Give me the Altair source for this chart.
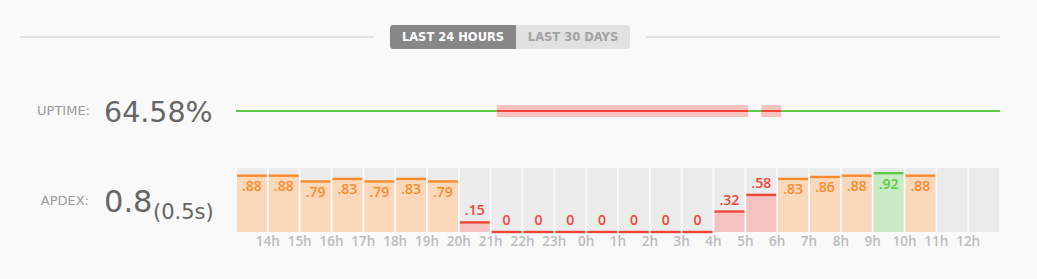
import altair as alt
import pandas as pd

# ---- data ----
hours = ["13h", "14h", "15h", "16h", "17h", "18h", "19h", "20h", "21h", "22h", "23h", "0h",
         "1h", "2h", "3h", "4h", "5h", "6h", "7h", "8h", "9h", "10h", "11h", "12h"]
apdex = [0.88, 0.88, 0.79, 0.83, 0.79, 0.83, 0.79, 0.15, 0, 0, 0, 0,
         0, 0, 0, 0.32, 0.58, 0.83, 0.86, 0.88, 0.92, 0.88, None, None]
status = ["fair", "fair", "fair", "fair", "fair", "fair", "fair", "bad", "bad", "bad", "bad", "bad",
          "bad", "bad", "bad", "bad", "bad", "fair", "fair", "fair", "good", "fair", None, None]
tick_labels = hours[1:]            # labels drawn at the boundaries between buckets
outage_start = [8.19, 16.50]       # hours from window start
outage_end = [16.09, 17.13]
uptime_text = "64.58%"
apdex_text = "0.8"
apdex_t = "(0.5s)"

line_col = {"fair": "#f98a2b", "bad": "#ee4537", "good": "#5cc948"}
fill_col = {"fair": "#fbd8b9", "bad": "#f6c3c0", "good": "#c8ebc3"}

FONT = "Open Sans"
WIDE = "DejaVu Sans"
BG = "#f9f9f9"

bars = pd.DataFrame({
    "i": list(range(24)),
    "i2": [k + 1 for k in range(24)],
    "hour": hours,
    "v": apdex,
    "status": status,
})
ticks = pd.DataFrame({"pos": list(range(1, 24)), "label": tick_labels})
outages = pd.DataFrame({"s": outage_start, "e": outage_end})
full = pd.DataFrame({"s": [0], "e": [24]})
one = pd.DataFrame({"a": [0]})

xs = alt.Scale(domain=[0, 24], range=[236, 1000], nice=False, zero=False)
ys = alt.Scale(domain=[0, 1], range=[232, 168], nice=False, zero=True)
stat_domain = ["fair", "bad", "good"]
line_scale = alt.Scale(domain=stat_domain, range=[line_col[k] for k in stat_domain])
fill_scale = alt.Scale(domain=stat_domain, range=[fill_col[k] for k in stat_domain])

X = alt.X("i:Q", scale=xs, axis=None)
X2 = alt.X2("i2:Q")

# background grey cells
bg_cells = alt.Chart(bars).mark_bar(color="#ebebeb", xOffset=1, x2Offset=-1).encode(
    x=X, x2=X2, y=alt.value(168), y2=alt.value(232))

fill_bars = alt.Chart(bars).transform_filter("isValid(datum.v)").mark_bar(
    xOffset=1, x2Offset=-1).encode(
    x=X, x2=X2,
    y=alt.Y("v:Q", scale=ys, axis=None), y2=alt.datum(0),
    color=alt.Color("status:N", scale=fill_scale, legend=None))

top_lines = alt.Chart(bars).transform_filter("isValid(datum.v)").mark_rule(
    xOffset=1, x2Offset=-1, strokeWidth=2.4).encode(
    x=X, x2=X2,
    y=alt.Y("v:Q", scale=ys, axis=None),
    color=alt.Color("status:N", scale=line_scale, legend=None))

lab_expr = "datum.v == 0 ? '0' : replace(format(datum.v, '.2f'), '0.', '.')"
inside_labels = alt.Chart(bars).transform_filter(
    "isValid(datum.v) && datum.status != 'bad'").transform_calculate(
    lab=lab_expr, mid="datum.i + 0.5").mark_text(
    font=FONT, fontSize=14, fontWeight=600, dy=11.5, baseline="middle").encode(
    x=alt.X("mid:Q", scale=xs, axis=None),
    y=alt.Y("v:Q", scale=ys, axis=None),
    text="lab:N",
    color=alt.Color("status:N", scale=line_scale, legend=None))

above_labels = alt.Chart(bars).transform_filter(
    "isValid(datum.v) && datum.status == 'bad'").transform_calculate(
    lab=lab_expr, mid="datum.i + 0.5").mark_text(
    font=FONT, fontSize=14, fontWeight=600, dy=-11, baseline="middle").encode(
    x=alt.X("mid:Q", scale=xs, axis=None),
    y=alt.Y("v:Q", scale=ys, axis=None),
    text="lab:N",
    color=alt.Color("status:N", scale=line_scale, legend=None))

hour_labels = alt.Chart(ticks).mark_text(font=FONT, fontSize=13.5, fontWeight=600,
                                         color="#bcbcbc", baseline="middle").encode(
    x=alt.X("pos:Q", scale=xs, axis=None), y=alt.value(242), text="label:N")

# uptime strip
up_line = alt.Chart(full).mark_rule(color="#5cc948", strokeWidth=2).encode(
    x=alt.X("s:Q", scale=xs, axis=None), x2="e:Q", y=alt.value(111))
out_box = alt.Chart(outages).mark_rect(color="#f6c3c0").encode(
    x=alt.X("s:Q", scale=xs, axis=None), x2="e:Q", y=alt.value(105), y2=alt.value(117))
out_line = alt.Chart(outages).mark_rule(color="#ee4537", strokeWidth=2).encode(
    x=alt.X("s:Q", scale=xs, axis=None), x2="e:Q", y=alt.value(111))

# header
hdr_lines = alt.Chart(pd.DataFrame({"a": [20, 646], "b": [374, 1000]})).mark_rule(
    color="#e2e2e2", strokeWidth=2).encode(
    x=alt.X("a:Q", scale=None), x2="b:Q", y=alt.value(37))
btn_light = alt.Chart(one).mark_rect(color="#e1e1e1", cornerRadius=3).encode(
    x=alt.value(390), x2=alt.value(630), y=alt.value(25), y2=alt.value(49))
btn_dark = alt.Chart(one).mark_rect(color="#878787", cornerRadiusTopLeft=3,
                                    cornerRadiusBottomLeft=3).encode(
    x=alt.value(390), x2=alt.value(516), y=alt.value(25), y2=alt.value(49))
btn_t1 = alt.Chart(one).mark_text(text="LAST 24 HOURS", font=WIDE, fontSize=11.5, fontWeight="bold",
                                  color="#ffffff", baseline="middle").encode(
    x=alt.value(453), y=alt.value(37.5))
btn_t2 = alt.Chart(one).mark_text(text="LAST 30 DAYS", font=WIDE, fontSize=11.5, fontWeight="bold",
                                  color="#a3a3a3", baseline="middle").encode(
    x=alt.value(573), y=alt.value(37.5))

# left labels
up_lab = alt.Chart(one).mark_text(text="UPTIME:", font=WIDE, fontSize=13,
                                  color="#9b9b9b", align="right", baseline="middle").encode(
    x=alt.value(90), y=alt.value(111))
up_val = alt.Chart(one).mark_text(text=uptime_text, font=WIDE, fontSize=28.5,
                                  color="#666666", align="left", baseline="alphabetic").encode(
    x=alt.value(104), y=alt.value(122))
ap_lab = alt.Chart(one).mark_text(text="APDEX:", font=WIDE, fontSize=13,
                                  color="#9b9b9b", align="right", baseline="middle").encode(
    x=alt.value(89), y=alt.value(201))
ap_val = alt.Chart(one).mark_text(text=apdex_text, font=WIDE, fontSize=30.5,
                                  color="#666666", align="left", baseline="alphabetic").encode(
    x=alt.value(104), y=alt.value(212))
ap_t = alt.Chart(one).mark_text(text=apdex_t, font=WIDE, fontSize=21,
                                color="#666666", align="left", baseline="alphabetic").encode(
    x=alt.value(153), y=alt.value(219))

chart = alt.layer(
    hdr_lines, btn_light, btn_dark, btn_t1, btn_t2,
    up_lab, up_val, up_line, out_box, out_line,
    ap_lab, ap_val, ap_t,
    bg_cells, fill_bars, top_lines, inside_labels, above_labels, hour_labels,
).resolve_scale(color="independent").properties(
    width=1037, height=279, autosize="none", padding=0, background=BG
).configure_view(strokeWidth=0)

chart.save("out.html", embed_options={"renderer": "svg", "actions": False})
